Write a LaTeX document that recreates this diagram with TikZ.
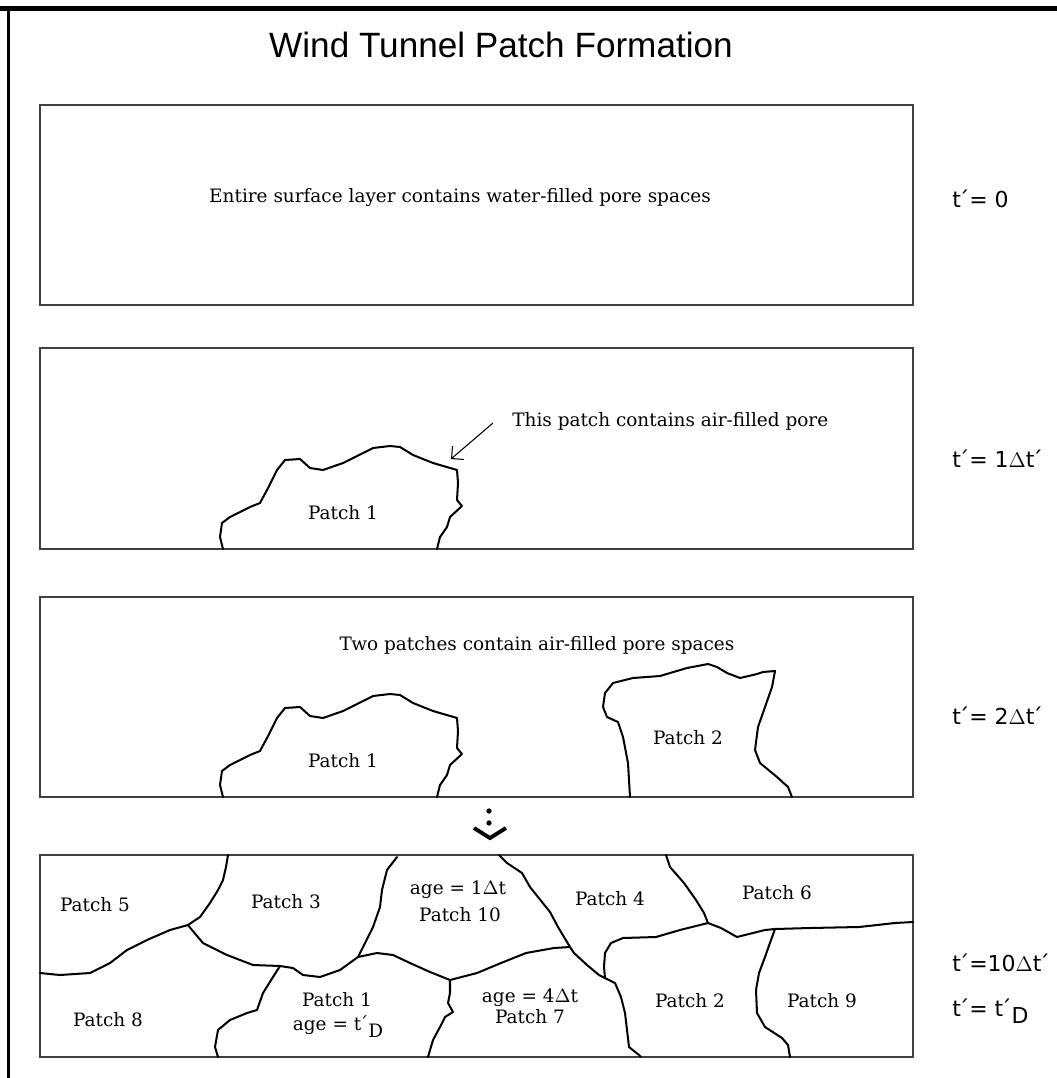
\documentclass[tikz,border=0pt]{standalone}
\usepackage{fontspec}
\setmainfont{DejaVu Serif}
\newfontfamily\titlefont{Liberation Sans}
\newfontfamily\timefont{DejaVu Sans}
\usetikzlibrary{arrows.meta}
\newcommand{\tp}{t\kern-0.12em´}

\tikzset{
  panel/.style={draw=black!75, line width=1.1pt},
  seam/.style={line width=1.15pt, line join=round, line cap=round},
  patchlbl/.style={font=\fontsize{10.5}{12}\selectfont, inner sep=0pt},
  timelbl/.style={anchor=west, font=\timefont\fontsize{12.5}{14}\selectfont, inner sep=0pt},
}

\begin{document}
\begin{tikzpicture}[x=0.02cm, y=-0.02cm]
\useasboundingbox (0,0) rectangle (1057,1078);
% frame and title
\draw[line width=2.8pt] (0,8.5) -- (1057,8.5);
\draw[line width=1.7pt] (8.5,8.5) -- (8.5,1078);
\node[font=\titlefont\fontsize{20}{24}\selectfont] (title) at (501,45) {Wind Tunnel Patch Formation};

% the four panels
\draw[panel] (40,105) rectangle (913,305);
\draw[panel] (40,348) rectangle (913,549);
\draw[panel] (40,597) rectangle (913,797);
\draw[panel] (40,855) rectangle (913,1057);

% t' = 0
\node[patchlbl] (all) at (460,198) {Entire surface layer contains water-filled pore spaces};
\node[timelbl] (t0) at (952,199) {\tp= 0};

% patch 1 in panels 2 and 3
\foreach \dy in {0,248} {
  \draw[seam, shift={(0,\dy)}] (223,549) -- (220,537) -- (222,523) -- (230,517) -- (250,507) -- (260,503) -- (267,490) -- (277,470) -- (285,460) -- (300,459) -- (310,468) -- (323,470) -- (343,463) -- (363,453) -- (373,448) -- (390,446) -- (400,447) -- (413,455) -- (433,463) -- (457,470) -- (458,483) -- (457,500) -- (462,506) -- (450,517) -- (447,527) -- (440,537) -- (437,549);
  \node[patchlbl] at (343,513+\dy) {Patch 1};
}

% t' = 1
\node[patchlbl, anchor=west] (note) at (512,421) {This patch contains air-filled pore};
\coordinate (tail) at (493,423);
\coordinate (tip) at (451,459);
\draw[-{Straight Barb[length=5pt,width=10pt]}, line width=0.6pt] (tail) -- (tip);
\node[timelbl] (t1) at (952,459) {\tp= 1$\Delta$\tp};

% t' = 2
\node[patchlbl] (two) at (537,645) {Two patches contain air-filled pore spaces};
\draw[seam] (630,797) -- (628,763) -- (623,737) -- (618,722) -- (607,717) -- (603,707) -- (605,693) -- (613,683) -- (633,678) -- (660,676) -- (687,668) -- (708,664) -- (717,667) -- (727,673) -- (740,678) -- (757,674) -- (763,672) -- (775,671) -- (772,687) -- (765,707) -- (758,727) -- (755,750) -- (760,763) -- (777,777) -- (788,787) -- (792,797);
\node[patchlbl] at (688,738) {Patch 2};
\node[timelbl] (t2) at (952,716) {\tp= 2$\Delta$\tp};

% skip sign
\fill (489,811) circle[radius=1.5pt];
\fill (489,823) circle[radius=1.5pt];
\draw[line width=2.2pt] (474,828) -- (490,838) -- (506,828);

% t' = 10 / t'_D
\draw[seam] (228,855) -- (226,867) -- (223,880) -- (218,890) -- (210,903) -- (200,917) -- (188,925);
\draw[seam] (188,925) -- (170,930) -- (147,940) -- (127,950) -- (110,963) -- (90,973) -- (60,975) -- (40,973);
\draw[seam] (188,925) -- (192,930) -- (203,943) -- (227,955) -- (253,965) -- (280,966) -- (293,968) -- (303,975) -- (320,977) -- (340,970) -- (358,957);
\draw[seam] (397,857) -- (387,870) -- (382,890) -- (380,907) -- (373,927) -- (365,943) -- (358,957);
\draw[seam] (358,957) -- (377,953) -- (393,955) -- (410,963) -- (430,972) -- (450,980);
\draw[seam] (280,966) -- (273,977) -- (263,993) -- (257,1010) -- (247,1013) -- (230,1020) -- (218,1030) -- (215,1047) -- (218,1057);
\draw[seam] (450,980) -- (450,993) -- (448,1003) -- (453,1012) -- (445,1017) -- (440,1027) -- (433,1040) -- (428,1057);
\draw[seam] (499,855) -- (507,863) -- (522,873) -- (530,887) -- (542,902) -- (550,912) -- (558,927) -- (564,937) -- (570,947) -- (574,953) -- (587,965) -- (599,975) -- (605,978);
\draw[seam] (450,980) -- (477,973) -- (501,963) -- (526,953) -- (554,948) -- (570,947);
\draw[seam] (605,978) -- (615,983) -- (621,997) -- (625,1013) -- (627,1030) -- (629,1047) -- (639,1055) -- (641,1057);
\draw[seam] (605,978) -- (604,967) -- (605,953) -- (611,943) -- (623,938) -- (656,937) -- (680,930) -- (708,923);
\draw[seam] (666,855) -- (670,867) -- (684,883) -- (696,900) -- (704,913) -- (708,923);
\draw[seam] (708,923) -- (721,928) -- (737,937) -- (753,933) -- (765,930) -- (775,929) -- (810,928) -- (859,927) -- (895,923) -- (913,922);
\draw[seam] (775,929) -- (771,940) -- (765,957) -- (759,973) -- (756,990) -- (757,1013) -- (765,1027) -- (782,1038) -- (788,1045) -- (790,1057);

\node[patchlbl] (p5) at (95,905) {Patch 5};
\node[patchlbl] (p3) at (286,902) {Patch 3};
\node[patchlbl] (a10) at (458,890) {age = 1$\Delta$t};
\node[patchlbl] (p10) at (460,915) {Patch 10};
\node[patchlbl] (p4) at (610,899) {Patch 4};
\node[patchlbl] (p6) at (777,893) {Patch 6};
\node[patchlbl] (p8) at (108,1020) {Patch 8};
\node[patchlbl] (p1) at (337,1000) {Patch 1};
\node[patchlbl] (a1) at (338,1027) {age = \tp\raisebox{-4pt}{D}};
\node[patchlbl] (a7) at (530,998) {age = 4$\Delta$t};
\node[patchlbl] (p7) at (530,1017) {Patch 7};
\node[patchlbl] (p2) at (690,1001) {Patch 2};
\node[patchlbl] (p9) at (822,1001) {Patch 9};
\node[timelbl] (t10) at (952,963) {\tp=10$\Delta$\tp};
\node[timelbl] (tD) at (952,1011) {\tp= \tp\raisebox{-4pt}{D}};
\end{tikzpicture}
\end{document}
